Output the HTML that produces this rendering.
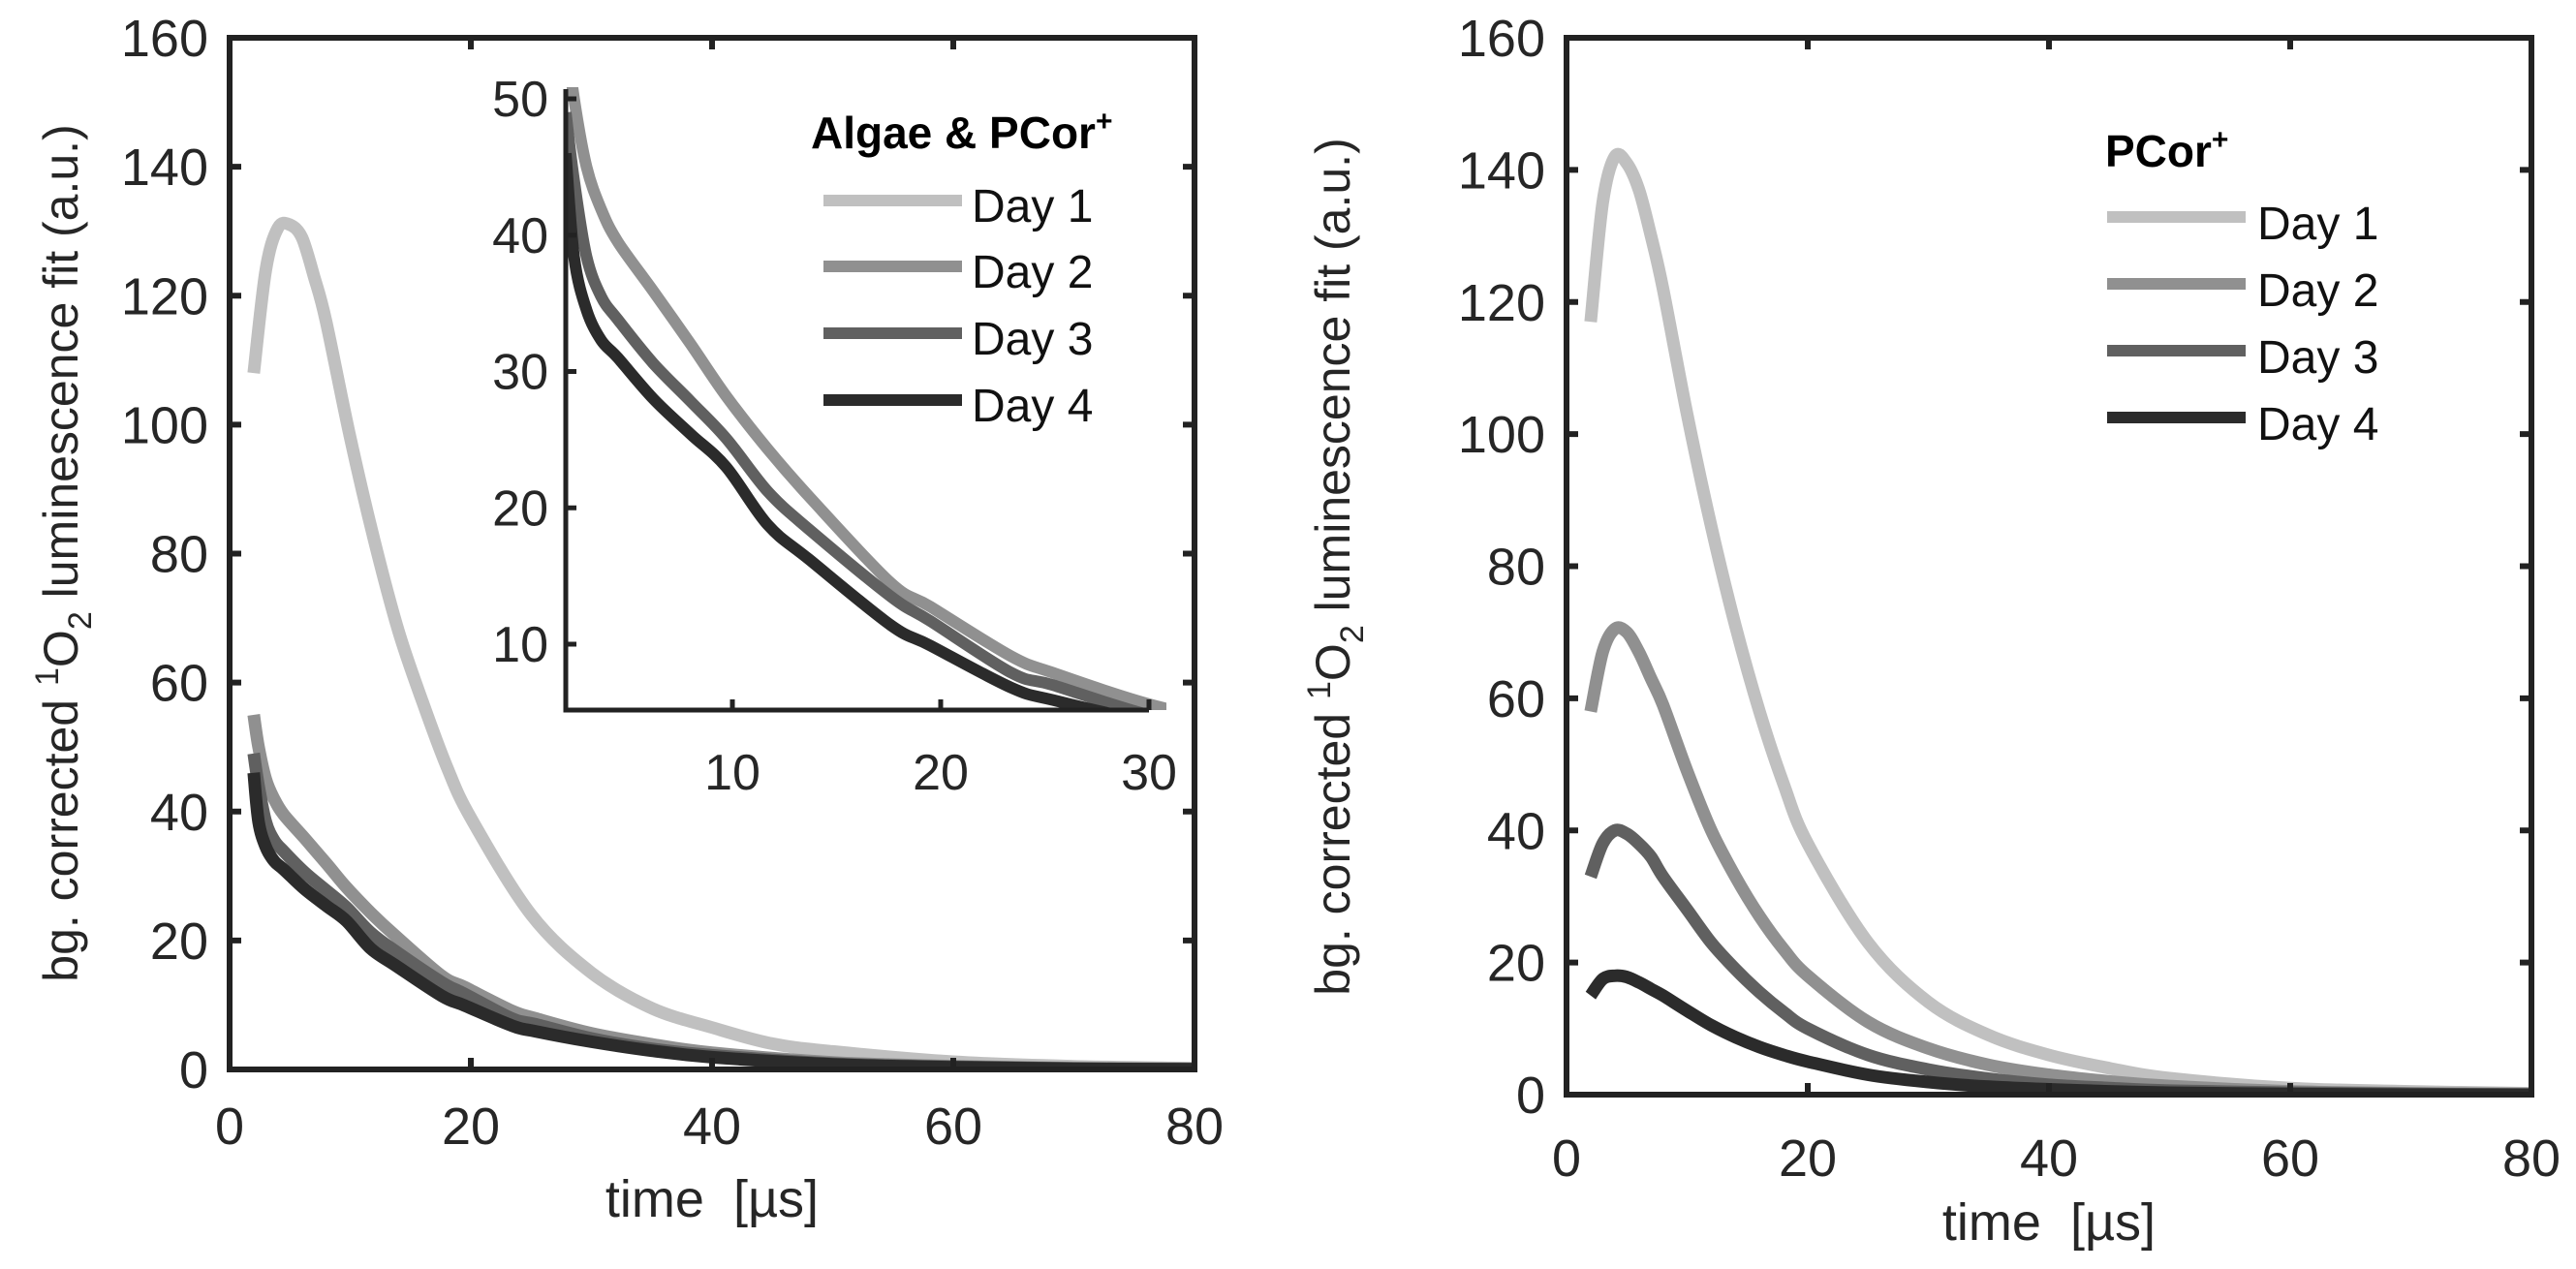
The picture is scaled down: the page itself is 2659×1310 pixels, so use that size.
<!DOCTYPE html>
<html><head><meta charset="utf-8"><style>
html,body{margin:0;padding:0;background:#fff}
svg{display:block;font-family:"Liberation Sans",Arial,sans-serif}
</style></head><body>
<svg id="fig" width="2659" height="1310" viewBox="0 0 2659 1310" xmlns="http://www.w3.org/2000/svg">
<defs>
<clipPath id="clipL"><rect x="237" y="39" width="996" height="1065"/></clipPath>
<clipPath id="clipR"><rect x="1617" y="39" width="996" height="1091"/></clipPath>
<clipPath id="clipI"><rect x="584" y="90" width="620" height="643"/></clipPath>
</defs>
<g id="root"></g>
</svg>
<script>
// ---- data ----
const times = [2,3,4,5,6,7,8,10,12,14,16,18,20,25,30,35,40,45,50,60,70,80];
const leftDay1 = [108,124,130.5,131,129,123,116,98,82,68,57,47,39,24,15,9.5,6.5,4,2.8,1.2,0.5,0.2];
const rightDay1 = [117,135,142,141,137,130,122,103,86,71,58,47,38,23,14,9,6,4,2.5,1,0.5,0.2];
const rightDay2 = [58,67,70.5,70,67,63,59,49,40,33,27,22,18,11,7,4.5,3,2,1.3,0.5,0.2,0.1];
const rightDay3 = [33,38,40,39.5,38,36,33,28,23,19,15.5,12.5,10,6,3.8,2.4,1.5,1,0.6,0.3,0.1,0];
const rightDay4 = [15,17.5,18,17.8,17,16,15,12.7,10.5,8.7,7.2,6,5,3,1.9,1.2,0.8,0.5,0.3,0.1,0,0];
const decayTimes = [2,2.4,3,3.7,4.5,6.2,8,9.7,11.7,13.7,17.6,19.5,23.4,25.4,30,35,40,50,60,70,80];
const leftDay2 = [55,50,45,41.9,39.5,35.9,32,28.2,24.3,20.8,14.5,12.75,9.1,7.9,5.6,3.9,2.6,1.1,0.5,0.2,0.1];
const leftDay3 = [49,44,38.4,35.5,33.8,30.6,27.8,25.1,21.2,18.4,13.5,11.7,7.9,7.0,4.8,3.2,2.2,0.9,0.4,0.15,0.05];
const leftDay4 = [46,38.4,34.5,32.3,31.0,28.0,25.4,23.0,18.75,16.2,11.4,9.9,6.8,5.9,4.3,2.9,1.9,0.8,0.35,0.1,0.05];
const mainXTicks = [0,20,40,60,80];
const mainYTicks = [0,20,40,60,80,100,120,140,160];
const insetXTicks = [10,20,30];
const insetYTicks = [10,20,30,40,50];
const legendLabels = ["Day 1","Day 2","Day 3","Day 4"];
const colors = ["#c0c0c0","#909090","#606060","#2b2b2b"];

const NS="http://www.w3.org/2000/svg";
const root=document.getElementById('root');
function el(tag,attrs,parent,text){const e=document.createElementNS(NS,tag);for(const k in attrs)e.setAttribute(k,attrs[k]);if(text!==undefined)e.textContent=text;(parent||root).appendChild(e);return e;}
function scale(d0,d1,r0,r1){return v=>r0+(v-d0)/(d1-d0)*(r1-r0);}

function drawAxes(g,x0,x1,y0,y1,xs,ys,xlabBase){
  mainXTicks.forEach(t=>{const x=xs(t);
    const tk=el('line',{x1:x,x2:x,y1:y1,y2:y1-12,stroke:'#222','stroke-width':6},g);
    
    
    el('line',{x1:x,x2:x,y1:y0,y2:y0+12,stroke:'#222','stroke-width':6},g);
    const lb=el('text',{x:x,y:xlabBase,'font-size':54,'text-anchor':'middle',fill:'#262626'},g,String(t));
    
    
  });
  mainYTicks.forEach(t=>{const y=ys(t);
    const tk=el('line',{x1:x0,x2:x0+12,y1:y,y2:y,stroke:'#222','stroke-width':6},g);
    
    
    el('line',{x1:x1,x2:x1-12,y1:y,y2:y,stroke:'#222','stroke-width':6},g);
    const lb=el('text',{x:x0-22,y:y+19,'font-size':54,'text-anchor':'end',fill:'#262626'},g,String(t));
    
    
  });
  const b=el('rect',{x:x0,y:y0,width:x1-x0,height:y1-y0,fill:'none',stroke:'#222','stroke-width':6},g);
  
  
}
function path(xArr,yArr,xs,ys){
  const P=xArr.map((t,i)=>[xs(t),ys(yArr[i])]);
  let d='M'+P[0][0].toFixed(1)+','+P[0][1].toFixed(1);
  for(let i=0;i<P.length-1;i++){
    const p0=P[Math.max(0,i-1)],p1=P[i],p2=P[i+1],p3=P[Math.min(P.length-1,i+2)];
    const c1=[p1[0]+(p2[0]-p0[0])/6,p1[1]+(p2[1]-p0[1])/6];
    const c2=[p2[0]-(p3[0]-p1[0])/6,p2[1]-(p3[1]-p1[1])/6];
    d+=` C${c1[0].toFixed(1)},${c1[1].toFixed(1)} ${c2[0].toFixed(1)},${c2[1].toFixed(1)} ${p2[0].toFixed(1)},${p2[1].toFixed(1)}`;
  }
  return d;
}
function series(g,xArr,yArr,xs,ys,c,w,clip,name){
  const p=el('path',{d:path(xArr,yArr,xs,ys),fill:'none',stroke:c,'stroke-width':w,'stroke-linejoin':'round','clip-path':'url(#'+clip+')'},g);
  
  
}
function ylabel(g,cx,cy){
  const t=el('text',{transform:`translate(${cx},${cy}) rotate(-90)`,'font-size':50,'text-anchor':'middle',fill:'#262626'},g);
  
  
  el('tspan',{},t,'bg. corrected ');
  el('tspan',{dy:-20,'font-size':34},t,'1');
  el('tspan',{dy:20},t,'O');
  el('tspan',{dy:14,'font-size':34},t,'2');
  el('tspan',{dy:-14},t,'\u00a0luminescence fit (a.u.)');
}
function legend(g,title,tx,ty,lx0,lx1,rows,textX,dyText){
  const tt=el('text',{x:tx,y:ty,'font-size':46,'font-weight':'bold',fill:'#000'},g);
  
  
  el('tspan',{},tt,title);
  el('tspan',{dy:-18,'font-size':30},tt,'+');
  legendLabels.forEach((lab,i)=>{
    const ln=el('line',{x1:lx0,x2:lx1,y1:rows[i],y2:rows[i],stroke:colors[i],'stroke-width':12},g);
    
    
    const t=el('text',{x:textX,y:rows[i]+dyText,'font-size':48,fill:'#111'},g,lab);
    
    
  });
}

// ---- left panel ----
const gL=el('g',{});


const xL=scale(0,80,237,1233), yL=scale(0,160,1104,39);
series(gL,times,leftDay1,xL,yL,colors[0],13,'clipL','line-left-day1');
series(gL,decayTimes,leftDay2,xL,yL,colors[1],13,'clipL','line-left-day2');
series(gL,decayTimes,leftDay3,xL,yL,colors[2],13,'clipL','line-left-day3');
series(gL,decayTimes,leftDay4,xL,yL,colors[3],13,'clipL','line-left-day4');
drawAxes(gL,237,1233,39,1104,xL,yL,1181);
ylabel(gL,80,571);
const xtL=el('text',{x:735,y:1256,'font-size':54,'text-anchor':'middle',fill:'#262626'},gL,'time\u00a0\u00a0[\u00b5s]');



// inset
const gI=el('g',{},gL);


const xI=scale(2,30,584,1186), yI=scale(10,50,665,102);
series(gI,decayTimes,leftDay2,xI,yI,colors[1],12,'clipI','line-inset-day2');
series(gI,decayTimes,leftDay3,xI,yI,colors[2],12,'clipI','line-inset-day3');
series(gI,decayTimes,leftDay4,xI,yI,colors[3],12,'clipI','line-inset-day4');
el('path',{d:'M584,92 L584,733 L1186,733',fill:'none',stroke:'#222','stroke-width':5},gI);
insetXTicks.forEach(t=>{const x=xI(t);
  el('line',{x1:x,x2:x,y1:733,y2:722,stroke:'#222','stroke-width':5},gI);
  const lb=el('text',{x:x,y:815,'font-size':52,'text-anchor':'middle',fill:'#262626'},gI,String(t));
  
  
});
insetYTicks.forEach(t=>{const y=yI(t);
  el('line',{x1:584,x2:595,y1:y,y2:y,stroke:'#222','stroke-width':5},gI);
  const lb=el('text',{x:566,y:y+18,'font-size':52,'text-anchor':'end',fill:'#262626'},gI,String(t));
  
  
});
legend(gL,'Algae & PCor',837,153,850,993,[207,275,344,413],1003,22);

// ---- right panel ----
const gR=el('g',{});


const xR=scale(0,80,1617,2613), yR=scale(0,160,1130,39);
series(gR,times,rightDay1,xR,yR,colors[0],13,'clipR','line-right-day1');
series(gR,times,rightDay2,xR,yR,colors[1],13,'clipR','line-right-day2');
series(gR,times,rightDay3,xR,yR,colors[2],13,'clipR','line-right-day3');
series(gR,times,rightDay4,xR,yR,colors[3],13,'clipR','line-right-day4');
drawAxes(gR,1617,2613,39,1130,xR,yR,1214);
ylabel(gR,1393,585);
const xtR=el('text',{x:2115,y:1280,'font-size':54,'text-anchor':'middle',fill:'#262626'},gR,'time\u00a0\u00a0[\u00b5s]');


legend(gR,'PCor',2173,172,2175,2318,[224,293,362,431],2330,23);
</script>
</body></html>
